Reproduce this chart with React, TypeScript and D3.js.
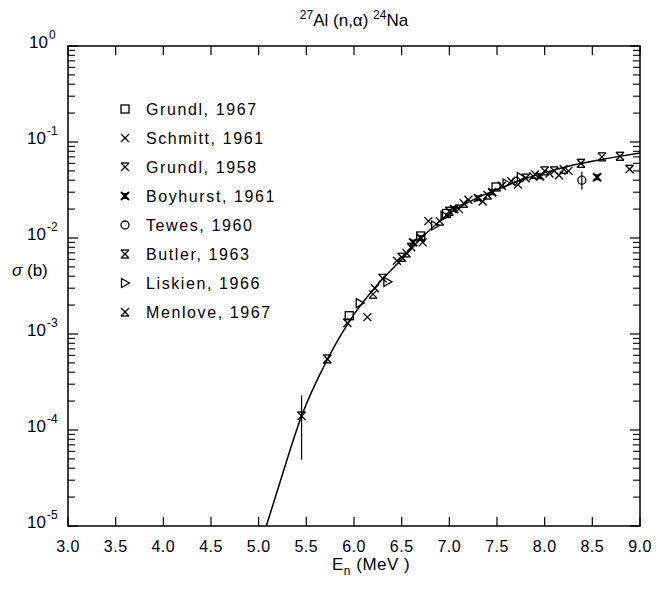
import React from "react";
import * as d3 from "d3";

// ---- data ----
const xTicks = [3.0, 3.5, 4.0, 4.5, 5.0, 5.5, 6.0, 6.5, 7.0, 7.5, 8.0, 8.5, 9.0];
const yDecades = [0, -1, -2, -3, -4, -5];

const curveE = [5.08, 5.2, 5.45, 5.72, 6.0, 6.25, 6.5, 6.75, 7.0, 7.25, 7.5, 7.75, 8.0, 8.25, 8.5, 8.75, 9.0];
const curveS = [1.0e-5, 2.4e-5, 1.4e-4, 5.4e-4, 1.6e-3, 3.3e-3, 6.0e-3, 1.1e-2, 1.8e-2, 2.5e-2, 3.2e-2, 4.0e-2, 4.8e-2, 5.6e-2, 6.3e-2, 7.0e-2, 7.7e-2];

const grundl1967E = [5.95, 6.97, 7.49, 6.7];
const grundl1967S = [1.55e-3, 1.8e-2, 3.4e-2, 1.05e-2];

const schmittE = [6.14, 6.22, 6.45, 6.78, 6.72, 7.2, 7.35, 7.55, 7.65, 7.72, 7.88, 8.05, 8.15, 8.25];
const schmittS = [1.5e-3, 3.0e-3, 5.8e-3, 1.5e-2, 9.0e-3, 2.5e-2, 2.4e-2, 3.5e-2, 3.9e-2, 3.6e-2, 4.4e-2, 4.7e-2, 4.5e-2, 5.0e-2];

const grundl1958E = [5.45, 5.93, 6.3, 6.6, 7.1, 7.8, 8.1, 8.89];
const grundl1958S = [1.4e-4, 1.3e-3, 3.8e-3, 8.0e-3, 2.0e-2, 4.2e-2, 5.0e-2, 5.2e-2];

const boyhurstE = [6.62, 6.7, 7.05, 7.3, 7.45, 7.95, 8.55];
const boyhurstS = [9.0e-3, 1.0e-2, 2.0e-2, 2.6e-2, 3.0e-2, 4.4e-2, 4.3e-2];

const tewesE = [8.39, 7.7];
const tewesS = [4.0e-2, 3.9e-2];

const butlerE = [5.72, 6.5, 7.0, 8.0, 8.38, 8.6, 8.79];
const butlerS = [5.5e-4, 6.3e-3, 1.9e-2, 5.0e-2, 6.0e-2, 7.0e-2, 7.1e-2];

const liskienE = [6.06, 6.35, 6.85, 6.95, 7.6, 7.75];
const liskienS = [2.1e-3, 3.5e-3, 1.35e-2, 1.7e-2, 3.7e-2, 4.3e-2];

const menloveE = [6.2, 6.55, 6.9, 7.15, 7.4, 7.9, 8.2];
const menloveS = [2.6e-3, 7.0e-3, 1.5e-2, 2.3e-2, 2.8e-2, 4.6e-2, 5.2e-2];

// error bars: [E, low, high]
const errE = [5.45, 8.39];
const errLo = [4.9e-5, 3.2e-2];
const errHi = [2.3e-4, 4.9e-2];

const legendNames = ["Grundl, 1967", "Schmitt, 1961", "Grundl, 1958", "Boyhurst, 1961", "Tewes, 1960", "Butler, 1963", "Liskien, 1966", "Menlove, 1967"];
const legendKinds = ["square", "x", "g58", "boy", "circle", "butler", "tri", "menlove"];

// ---- layout ----
const W = 660, H = 589;
const L = 68, R = 640, T = 46, B = 526;
const FONT = "'Liberation Sans', Arial, sans-serif";

const x = d3.scaleLinear().domain([3, 9]).range([L, R]);
const y = d3.scaleLog().domain([1e-5, 1]).range([B, T]);

function Marker({ kind, cx, cy }: { kind: string; cx: number; cy: number }) {
  const s = 4;
  const st = { stroke: "#000", strokeWidth: 1.3, fill: "none" } as any;
  const X = (
    <>
      <line x1={cx - s} y1={cy - s} x2={cx + s} y2={cy + s} {...st} />
      <line x1={cx + s} y1={cy - s} x2={cx - s} y2={cy + s} {...st} />
    </>
  );
  switch (kind) {
    case "square":
      return <rect x={cx - 4} y={cy - 4} width={8} height={8} {...st} />;
    case "x":
      return X;
    case "g58":
      return (
        <g>
          {X}
          <line x1={cx - s} y1={cy - s} x2={cx + s} y2={cy - s} {...st} />
        </g>
      );
    case "butler":
      return (
        <g>
          {X}
          <line x1={cx - s} y1={cy - s} x2={cx + s} y2={cy - s} {...st} />
          <line x1={cx - s} y1={cy + s} x2={cx + s} y2={cy + s} {...st} />
        </g>
      );
    case "menlove":
      return (
        <g>
          {X}
          <line x1={cx - s} y1={cy + s} x2={cx + s} y2={cy + s} {...st} />
        </g>
      );
    case "boy":
      return (
        <g>
          <line x1={cx - s} y1={cy - s} x2={cx + s} y2={cy + s} stroke="#000" strokeWidth={2} />
          <line x1={cx + s} y1={cy - s} x2={cx - s} y2={cy + s} stroke="#000" strokeWidth={2} />
          <path d={`M${cx - 2.5},${cy - 3} L${cx + 2.5},${cy - 3} L${cx},${cy} Z M${cx - 2.5},${cy + 3} L${cx + 2.5},${cy + 3} L${cx},${cy} Z`} fill="#000" />
        </g>
      );
    case "circle":
      return <circle cx={cx} cy={cy} r={4} {...st} />;
    case "tri":
      return <path d={`M${cx - 3.5},${cy - 4.5} L${cx + 4.5},${cy} L${cx - 3.5},${cy + 4.5} Z`} {...st} />;
  }
  return null;
}

const series: { kind: string; E: number[]; S: number[] }[] = [
  { kind: "square", E: grundl1967E, S: grundl1967S },
  { kind: "x", E: schmittE, S: schmittS },
  { kind: "g58", E: grundl1958E, S: grundl1958S },
  { kind: "boy", E: boyhurstE, S: boyhurstS },
  { kind: "circle", E: tewesE, S: tewesS },
  { kind: "butler", E: butlerE, S: butlerS },
  { kind: "tri", E: liskienE, S: liskienS },
  { kind: "menlove", E: menloveE, S: menloveS },
];

export default function App() {
  const line = d3
    .line<number>()
    .x((_, i) => x(curveE[i]))
    .y((_, i) => y(curveS[i]))
    .curve(d3.curveMonotoneX);
  const curvePath = line(curveE) || "";

  const minorTicks: number[] = [];
  for (let d = -5; d < 0; d++) for (let m = 2; m <= 9; m++) minorTicks.push(m * Math.pow(10, d));

  return (
    <svg width={W} height={H} style={{ position: "absolute", left: 0, top: 0, background: "#fff" }} fontFamily={FONT}>
      <rect x={0} y={0} width={W} height={H} fill="#fff" />
      {/* frame */}
      <rect x={L} y={T} width={R - L} height={B - T} fill="none" stroke="#000" strokeWidth={1.5} />
      {/* x ticks */}
      {xTicks.map((t) => (
        <g key={"xt" + t}>
          <line x1={x(t)} x2={x(t)} y1={B} y2={B - 9} stroke="#000" strokeWidth={1.2} />
          <line x1={x(t)} x2={x(t)} y1={T} y2={T + 9} stroke="#000" strokeWidth={1.2} />
          <text x={x(t)} y={B + 26} textAnchor="middle" fontSize={16} letterSpacing={0.5}>
            {t.toFixed(1)}
          </text>
        </g>
      ))}
      {/* y ticks */}
      {minorTicks.map((v, i) => (
        <g key={"ym" + i}>
          <line x1={L} x2={L + 7} y1={y(v)} y2={y(v)} stroke="#000" strokeWidth={1.1} />
          <line x1={R} x2={R - 7} y1={y(v)} y2={y(v)} stroke="#000" strokeWidth={1.1} />
        </g>
      ))}
      {yDecades.map((d) => (
        <g key={"yd" + d}>
          <line x1={L} x2={L + 10} y1={y(Math.pow(10, d))} y2={y(Math.pow(10, d))} stroke="#000" strokeWidth={1.2} />
          <line x1={R} x2={R - 10} y1={y(Math.pow(10, d))} y2={y(Math.pow(10, d))} stroke="#000" strokeWidth={1.2} />
          <text x={d === 0 ? L - 20 : L - 22} y={y(Math.pow(10, d)) + 2} textAnchor="end" fontSize={17}>
            10
          </text>
          <text x={d === 0 ? L - 19 : L - 21} y={y(Math.pow(10, d)) - 7} textAnchor="start" fontSize={12}>
            {d === 0 ? "0" : "-" + -d}
          </text>
        </g>
      ))}
      {/* axis titles */}
      <text x={12} y={276} fontSize={17}>
        <tspan fontStyle="italic">σ</tspan> (b)
      </text>
      <text x={332} y={570} fontSize={17} letterSpacing={0.5}>
        E
        <tspan fontSize={12} dy={5}>n</tspan>
        <tspan dy={-5}> (MeV )</tspan>
      </text>
      <text x={354} y={26} textAnchor="middle" fontSize={17}>
        <tspan fontSize={12} dy={-7}>27</tspan>
        <tspan dy={7}>Al (n,α) </tspan>
        <tspan fontSize={12} dy={-7}>24</tspan>
        <tspan dy={7}>Na</tspan>
      </text>
      {/* curve */}
      <path d={curvePath} fill="none" stroke="#000" strokeWidth={1.5} />
      {/* error bars */}
      {errE.map((e, i) => (
        <line key={"eb" + i} x1={x(e)} x2={x(e)} y1={y(errLo[i])} y2={y(errHi[i])} stroke="#000" strokeWidth={1.2} />
      ))}
      {/* points */}
      {series.map((s) =>
        s.E.map((e, i) => <Marker key={s.kind + i} kind={s.kind} cx={x(e)} cy={y(s.S[i])} />)
      )}
      {/* legend */}
      {legendNames.map((n, i) => (
        <g key={"lg" + i}>
          <Marker kind={legendKinds[i]} cx={125} cy={109 + i * 29} />
          <text x={146} y={115 + i * 29} fontSize={16} letterSpacing={1.6}>
            {n}
          </text>
        </g>
      ))}
    </svg>
  );
}
